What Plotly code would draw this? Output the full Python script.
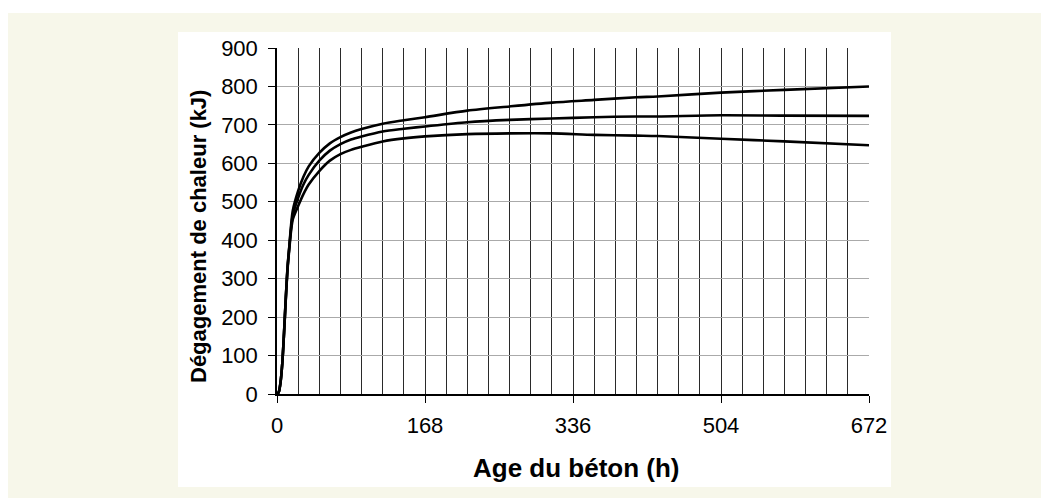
import plotly.graph_objects as go

# Data
hours = [0, 2, 4, 6, 8, 10, 12, 14, 16, 18, 24, 30, 36, 48, 60, 72, 84, 96, 120, 144,
         168, 216, 264, 312, 360, 408, 432, 504, 576, 672]
serie_haute = [0, 5, 30, 80, 160, 250, 330, 385, 440, 478, 528, 565, 592, 627, 652, 668,
               680, 689, 703, 712, 720, 737, 748, 758, 765, 772, 774, 784, 791, 800]
serie_milieu = [0, 5, 30, 80, 160, 250, 330, 383, 432, 466, 510, 545, 570, 607, 633, 650,
                662, 670, 683, 690, 696, 707, 713, 716.5, 720, 722, 722, 725, 724, 723.5]
serie_basse = [0, 5, 30, 80, 158, 247, 325, 378, 425, 455, 489, 520, 545, 580, 607, 624,
               635, 643, 657, 665, 670, 676, 678, 678, 674, 672, 671, 664, 657, 647]

x_ticks = [0, 168, 336, 504, 672]
y_ticks = [0, 100, 200, 300, 400, 500, 600, 700, 800, 900]

OFF = 8  # default page body margin
W, H = 1049 - OFF, 498 - OFF
L, R, T, B = 277 - OFF, 869 - OFF, 48 - OFF, 394 - OFF
pw, ph = R - L, B - T


def px(x):
    return (x - OFF - L) / pw


def py(y):
    return (B - (y - OFF)) / ph


fig = go.Figure()
for s in (serie_basse, serie_milieu, serie_haute):
    fig.add_trace(go.Scatter(x=hours, y=s, mode="lines",
                             line=dict(color="black", width=2.6, shape="spline", smoothing=0.8),
                             showlegend=False, hoverinfo="skip"))

fig.add_shape(type="rect", xref="paper", yref="paper", x0=px(8), x1=px(1049),
              y0=py(498), y1=py(13), fillcolor="#f7f7ea", line_width=0, layer="below")
fig.add_shape(type="rect", xref="paper", yref="paper", x0=px(178), x1=px(891),
              y0=py(487), y1=py(32), fillcolor="white", line_width=0, layer="below")

family = "Liberation Sans, Arial, sans-serif"
tick_font = dict(family=family, size=22, color="black")

fig.add_annotation(xref="paper", yref="paper", x=px(576), y=py(468),
                   text="<b>Age du béton (h)</b>", showarrow=False,
                   font=dict(family=family, size=26, color="black"),
                   xanchor="center", yanchor="middle")
fig.add_annotation(xref="paper", yref="paper", x=px(198), y=py(237),
                   text="<b>Dégagement de chaleur (kJ)</b>", showarrow=False, textangle=-90,
                   font=dict(family=family, size=22, color="black"),
                   xanchor="center", yanchor="middle")

fig.update_layout(
    width=W, height=H,
    margin=dict(l=L, r=W - R, t=T, b=H - B),
    paper_bgcolor="white", plot_bgcolor="rgba(0,0,0,0)",
    font=tick_font,
    xaxis=dict(range=[0, 672], tickvals=x_ticks, ticktext=[str(v) for v in x_ticks],
               showgrid=True, gridcolor="#2a2a2a", gridwidth=1,
               minor=dict(dtick=24, tick0=0, showgrid=True, gridcolor="#2a2a2a", gridwidth=1),
               showline=True, linecolor="black", linewidth=1.5,
               ticks="outside", ticklen=7, tickcolor="black", tickwidth=1,
               zeroline=False, ticklabelstandoff=4, tickfont=tick_font),
    yaxis=dict(range=[0, 900], tickvals=y_ticks, ticktext=[str(v) for v in y_ticks],
               showgrid=True, gridcolor="#aaaaaa", gridwidth=1,
               showline=True, linecolor="black", linewidth=1.5,
               ticks="outside", ticklen=7, tickcolor="black", tickwidth=1,
               zeroline=False, ticklabelstandoff=6, tickfont=tick_font),
)

fig.write_html("out.html")
